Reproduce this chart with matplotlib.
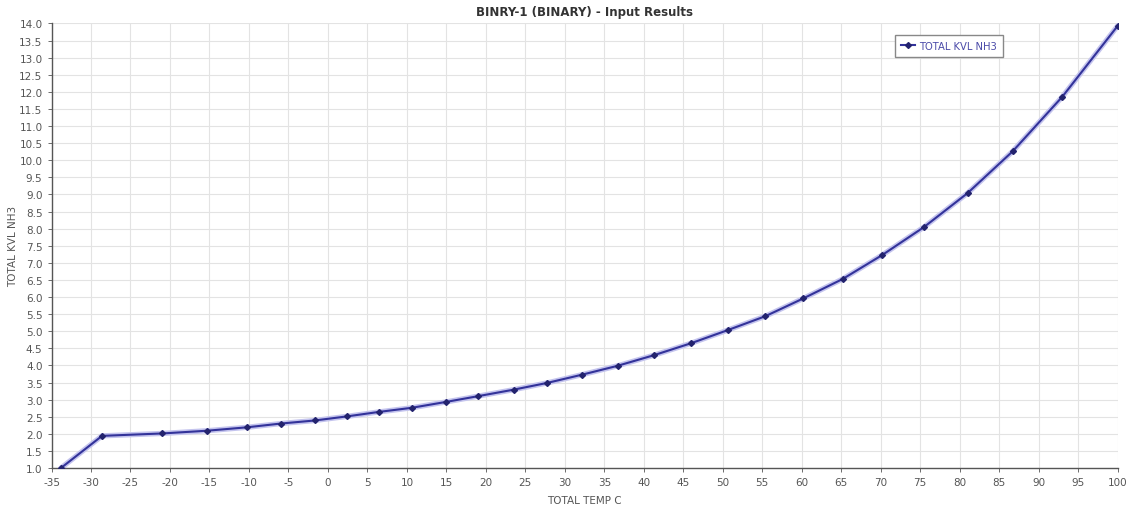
import numpy as np
import matplotlib.pyplot as plt

plt.rcParams['axes.unicode_minus'] = False

# KVL of NH3 vs temperature
temp_c = [-33.8, -28.6, -21.0, -15.3, -10.25, -5.95, -1.65, 2.44, 6.46, 10.6,
          14.9, 19.0, 23.5, 27.8, 32.2, 36.7, 41.3, 46.0, 50.6, 55.4,
          60.2, 65.2, 70.2, 75.5, 81.0, 86.7, 93.0, 100.0]
kvl_nh3 = [1.0, 1.94, 2.01, 2.09, 2.19, 2.30, 2.39, 2.51, 2.64, 2.76,
           2.93, 3.10, 3.29, 3.49, 3.73, 3.99, 4.30, 4.65, 5.03, 5.44,
           5.96, 6.53, 7.23, 8.05, 9.04, 10.26, 11.86, 13.93]

x_ticks = np.arange(-35, 101, 5)
y_ticks = np.arange(1.0, 14.01, 0.5)

fig = plt.figure(figsize=(11.37, 5.10), dpi=100)
ax = fig.add_axes([0.0453, 0.0804, 0.9377, 0.8716])

ax.plot(temp_c, kvl_nh3, color='#c4c4ee', lw=3.8, solid_capstyle='round', zorder=2)
ax.plot(temp_c, kvl_nh3, color='#33339a', lw=1.5, marker='D', ms=3,
        mfc='#23236e', mec='#23236e', label='TOTAL KVL NH3', zorder=3)

ax.set_xlim(-35, 100)
ax.set_ylim(1.0, 14.0)
ax.set_xticks(x_ticks)
ax.set_yticks(y_ticks)
ax.set_yticklabels([f'{v:.1f}' for v in y_ticks])
ax.tick_params(labelsize=7.5, colors='#555555', length=3, width=0.6)
ax.grid(True, color='#e3e3e3', lw=0.8)
ax.set_axisbelow(True)
for s in ['top', 'right']:
    ax.spines[s].set_visible(False)
for s in ['left', 'bottom']:
    ax.spines[s].set_color('#555555')
    ax.spines[s].set_linewidth(1.0)

ax.set_xlabel('TOTAL TEMP C', fontsize=7.5, color='#555555', labelpad=6)
ax.set_ylabel('TOTAL KVL NH3', fontsize=7.5, color='#555555')
ax.yaxis.set_label_coords(-0.031, 0.5)
ax.set_title('BINRY-1 (BINARY) - Input Results', fontsize=8.5, fontweight='bold',
             color='#333333', pad=6)

leg = ax.legend(loc='upper left', bbox_to_anchor=(0.786, 0.986), fontsize=7.2,
                fancybox=False, framealpha=1, edgecolor='#888888',
                handlelength=1.4, handletextpad=0.5, borderpad=0.6)
for t in leg.get_texts():
    t.set_color('#4a4aa8')

plt.savefig('out.png', dpi=100)
